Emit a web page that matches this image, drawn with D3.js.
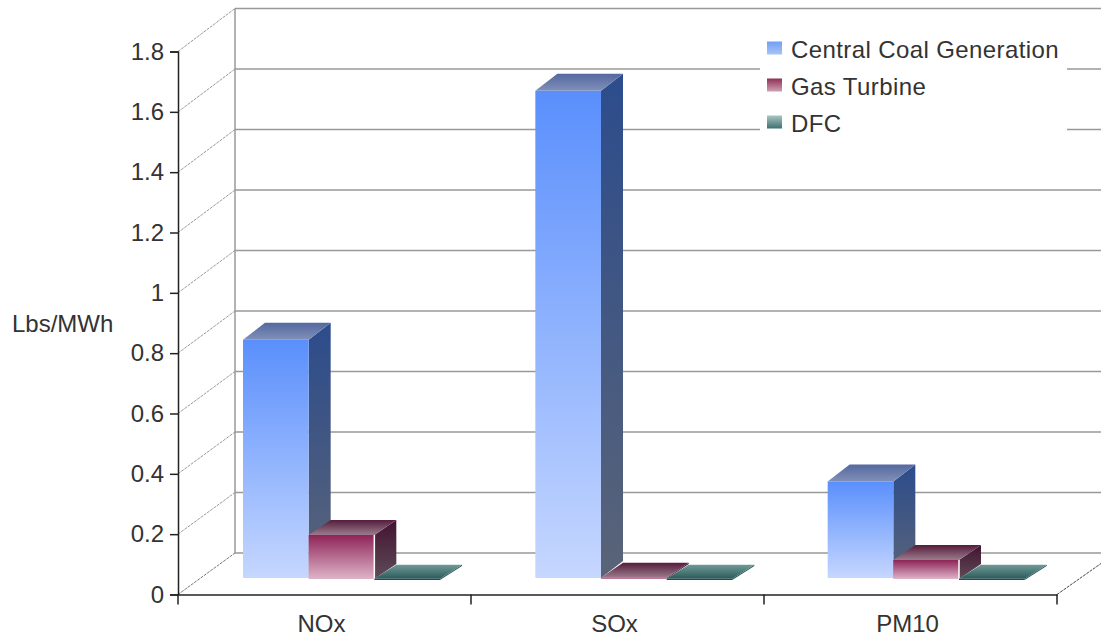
<!DOCTYPE html>
<html><head><meta charset="utf-8">
<script src="https://cdnjs.cloudflare.com/ajax/libs/d3/7.8.5/d3.min.js"></script>
<style>html,body{margin:0;padding:0;background:#fff}svg{display:block}text{font-family:"Liberation Sans",Arial,sans-serif;fill:#333}</style>
</head><body><svg id="c" width="1101" height="637"></svg>
<script>
const categories = ["NOx","SOx","PM10"];
const seriesNames = ["Central Coal Generation","Gas Turbine","DFC"];
const coal = [0.79,1.615,0.32];
const gas = [0.146,0.004,0.063];
const dfc = [0.004,0.004,0.004];
const yTicks = [0,0.2,0.4,0.6,0.8,1,1.2,1.4,1.6,1.8];
const seriesValues = [coal,gas,dfc];

const palette = [
 {front:["#5a8ffc","#c6d7ff"],side:["#2c4c8c","#5a6478"],top:["#5468a0","#8090b8"],key:["#6f9ff5","#a9c3f7"]},
 {front:["#8d2458","#dfb4c8"],side:["#431230","#5e4c58"],top:["#561c3c","#9a7c8c"],key:["#8e3056","#cfa0b4"]},
 {front:["#234a4c","#234a4c"],side:["#2c5a5c","#2c5a5c"],top:["#6f9a96","#2c5a5c"],key:["#a8c6c2","#3d7070"]}
];
const svg = d3.select("#c");
const defs = svg.append("defs");
palette.forEach((p,i)=>["front","side","top","key"].forEach(k=>{
  const g = defs.append("linearGradient").attr("id",`g${i}${k}`).attr("x1",0).attr("x2",0).attr("y1",k==="top"?1:0).attr("y2",k==="top"?0:1);
  const c = k==="top" ? [p.top[1],p.top[0]] : p[k];
  g.append("stop").attr("offset",0).attr("stop-color",c[0]);
  g.append("stop").attr("offset",1).attr("stop-color",c[1]);
}));

const frontL=178, frontR=1057, frontB=594.5, frontT=51.5;
const wallX=235;
const barDx=22, barDy=[-17,-15,-14], barBaseDy=[-16.5,-15.5,-14.5];
const y = d3.scaleLinear().domain([0,1.8]).range([frontB,frontT]);
const yWall = d3.scaleLinear().domain([0,1.8]).range([553,8.5]);
const x = d3.scaleBand().domain(categories).range([frontL,frontR]);
const xBars = d3.scaleBand().domain(categories).range([frontL,1055]);
const inner = d3.scaleBand().domain(seriesNames).range([65,262]);

// walls
const wall = svg.append("g");
yTicks.forEach(t=>{
  wall.append("line").attr("x1",frontL).attr("y1",y(t)).attr("x2",wallX).attr("y2",yWall(t))
    .attr("stroke",t===0?"#777":"#999").attr("stroke-width",1).attr("stroke-dasharray","3 1");
  wall.append("line").attr("x1",wallX).attr("x2",1101).attr("y1",yWall(t)).attr("y2",yWall(t))
    .attr("stroke","#999").attr("stroke-width",1.5);
});
wall.append("line").attr("x1",wallX).attr("x2",wallX).attr("y1",yWall(1.8)).attr("y2",yWall(0)).attr("stroke","#999").attr("stroke-width",1.5);
wall.append("line").attr("x1",frontR).attr("y1",frontB).attr("x2",1101).attr("y2",frontB-31).attr("stroke","#444").attr("stroke-width",1).attr("stroke-dasharray","3 1");

// legend box
svg.append("rect").attr("x",760).attr("y",30).attr("width",307).attr("height",125).attr("fill","#fff");

// bars
const bars = svg.append("g");
categories.forEach((c,ci)=>{
  seriesNames.forEach((s,si)=>{
    const v = seriesValues[si][ci];
    const x0 = xBars(c)+inner(s), w = inner.bandwidth();
    const yb = y(0)+barBaseDy[si], yt = y(v)+barBaseDy[si], dy = barDy[si];
    const path = pts => "M"+pts.map(p=>p.join(",")).join("L")+"Z";
    bars.append("path").attr("d",path([[x0+w,yt],[x0+w+barDx,yt+dy],[x0+w+barDx,yb+dy],[x0+w,yb]])).attr("fill",`url(#g${si}side)`);
    bars.append("path").attr("d",path([[x0,yt],[x0+barDx,yt+dy],[x0+w+barDx,yt+dy],[x0+w,yt]])).attr("fill",`url(#g${si}top)`);
    bars.append("rect").attr("x",x0).attr("y",yt).attr("width",w).attr("height",yb-yt).attr("fill",`url(#g${si}front)`);
    if (si===1 && yb-yt>3) bars.append("line").attr("x1",x0+w).attr("x2",x0+w).attr("y1",yt).attr("y2",yb).attr("stroke","#fff").attr("stroke-width",1.5);
  });
});

// axes
const FONT='"Liberation Sans",Arial,sans-serif';
const yAxis = d3.axisLeft(y).tickValues(yTicks).tickSize(8).tickPadding(6).tickFormat(d=>String(d));
const gy = svg.append("g").attr("transform",`translate(${frontL},0)`).call(yAxis);
const xTickVals = d3.range(categories.length+1).map(i=>frontL+i*x.bandwidth());
const xAxis = d3.axisBottom(x).tickSize(0).tickPadding(20);
const gx = svg.append("g").attr("transform",`translate(0,${frontB})`).call(xAxis);
gx.selectAll(".tick text").attr("dx",-3);
gx.selectAll(".tl").data(xTickVals).enter().append("line").attr("x1",d=>d).attr("x2",d=>d).attr("y1",0).attr("y2",10).attr("stroke","#222").attr("stroke-width",1.5);
[gy,gx].forEach(g=>{
  g.selectAll(".domain").attr("stroke","#222").attr("stroke-width",1.5);
  g.selectAll(".tick line").attr("stroke","#222").attr("stroke-width",1.5);
  g.selectAll("text").attr("font-size",24).style("font-family",FONT).attr("fill","#333");
});
svg.append("text").attr("x",12).attr("y",331.5).attr("font-size",24).text("Lbs/MWh");

// legend
seriesNames.forEach((s,i)=>{
  const ly = 48.5+i*37;
  svg.append("rect").attr("x",767).attr("y",ly-7).attr("width",15).attr("height",13).attr("fill",`url(#g${i}key)`);
  svg.append("text").attr("x",791).attr("y",ly+9).attr("font-size",24).style("letter-spacing","0.4px").text(s);
});
</script></body></html>
